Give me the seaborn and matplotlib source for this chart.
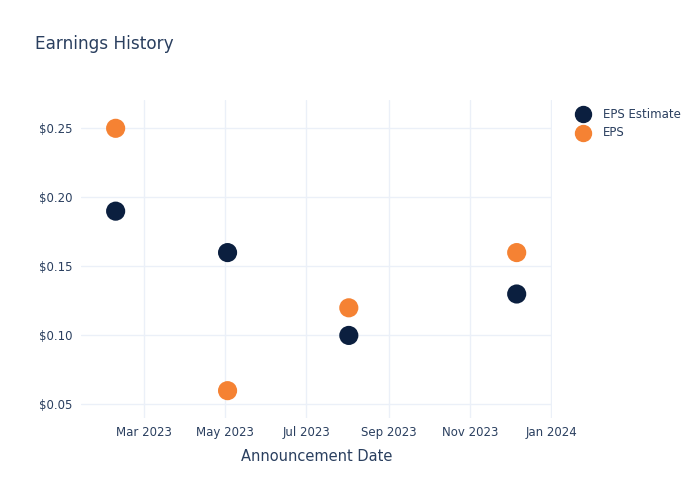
import matplotlib
matplotlib.use("Agg")
import matplotlib.pyplot as plt
import matplotlib.dates as mdates
import seaborn as sns
import pandas as pd
import numpy as np

dates = ["2023-02-08", "2023-05-03", "2023-08-02", "2023-12-06"]
eps_estimate = [0.19, 0.16, 0.10, 0.13]
eps_actual = [0.25, 0.06, 0.12, 0.16]
series_names = ["EPS Estimate", "EPS"]
colors = ["#0b1f3f", "#f58233"]

df = pd.DataFrame({
    "date": pd.to_datetime(dates * 2),
    "value": eps_estimate + eps_actual,
    "series": [series_names[0]] * len(dates) + [series_names[1]] * len(dates),
})

sns.set_style("white")
plt.rcParams["font.family"] = ["DejaVu Sans"]
txt = "#2a3f5f"

fig = plt.figure(figsize=(7, 5), dpi=100)
ax = fig.add_axes([81/700, 1-418/500, (552-81)/700, (418-100)/500])

sns.scatterplot(data=df, x="date", y="value", hue="series", palette=colors,
                s=190, edgecolor="none", ax=ax, legend=False, zorder=3)

ax.set_xlim(pd.Timestamp("2023-01-13"), pd.Timestamp("2024-01-01 12:00"))
ax.set_ylim(0.0402, 0.2705)
ax.set_yticks([0.05, 0.10, 0.15, 0.20, 0.25])
ax.yaxis.set_major_formatter(matplotlib.ticker.FuncFormatter(lambda v, p: f"${v:.2f}"))
ax.xaxis.set_major_locator(mdates.MonthLocator(bymonth=[1, 3, 5, 7, 9, 11]))
ax.xaxis.set_major_formatter(mdates.DateFormatter("%b %Y"))

ax.grid(True, color="#ebf0f8", linewidth=1)
ax.set_axisbelow(True)
for s in ax.spines.values():
    s.set_visible(False)
ax.tick_params(axis="both", length=0, labelsize=8.5, labelcolor=txt, pad=6)
ax.set_xlabel("Announcement Date", fontsize=10.5, color=txt, labelpad=7)
ax.set_ylabel("")

fig.text(35/700, 1-44/500, "Earnings History", fontsize=12.2, color=txt, va="center", ha="left")

for i, (name, c) in enumerate(zip(series_names, colors)):
    y = 1 - (114 + 19*i)/500
    fig.lines.append(matplotlib.lines.Line2D([583/700], [y], marker="o", markersize=11.5,
                     color=c, linestyle="none", transform=fig.transFigure))
    fig.text(603/700, y, name, fontsize=8.5, color=txt, va="center", ha="left")

fig.savefig("out.png", dpi=100, facecolor="white")
